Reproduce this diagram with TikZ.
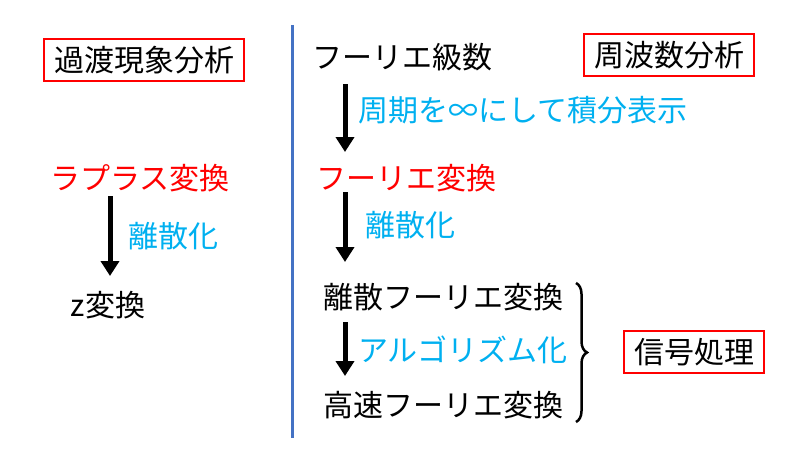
\documentclass[tikz,border=0pt]{standalone}
\usepackage{fontspec}
\setmainfont{Noto Sans CJK JP}
\usetikzlibrary{arrows.meta,decorations.pathreplacing}
\definecolor{cy}{HTML}{00B0F0}
\definecolor{bl}{HTML}{4472C4}
\begin{document}
\begin{tikzpicture}[x=1pt,y=-1pt,
  txt/.style={inner sep=0pt,font=\fontsize{30}{33}\selectfont},
  lab/.style={txt,anchor=west,text=cy},
  rbox/.style={txt,draw=red,line width=2.5pt,inner xsep=10pt,inner ysep=7pt},
  arr/.style={line width=5pt,-{Triangle[width=18pt,length=15pt]}}]
\useasboundingbox (0,0) rectangle (800,460);
\draw[bl,line width=3pt] (292,25) coordinate (t) -- (292,438) coordinate (b);
\node[rbox] (kato) at (144,60) {過渡現象分析};
\node[rbox] (shuha) at (669,55) {周波数分析};
\node[rbox] (shingo) at (694,352) {信号処理};
\node[txt] (fs) at (402,57) {フーリエ級数};
\node[txt,text=red] (ft) at (406,178) {フーリエ変換};
\node[txt,text=red] (lp) at (140,178) {ラプラス変換};
\node[txt] (z) at (108,305) {z変換};
\node[txt] (dft) at (443,297) {離散フーリエ変換};
\node[txt] (fft) at (443,405) {高速フーリエ変換};
\coordinate (a1) at (345,84); \coordinate (a2) at (345,152);
\coordinate (b1) at (345,192); \coordinate (b2) at (345,262);
\coordinate (c1) at (110,196); \coordinate (c2) at (110,276);
\coordinate (d1) at (345,322); \coordinate (d2) at (345,376);
\draw[arr] (a1) -- (a2);
\draw[arr] (b1) -- (b2);
\draw[arr] (c1) -- (c2);
\draw[arr] (d1) -- (d2);
\node[lab] (l1) at (358,110) {周期を∞にして積分表示};
\node[lab] (l2) at (365,225) {離散化};
\node[lab] (l3) at (128,236) {離散化};
\node[lab] (l4) at (358,350) {アルゴリズム化};
\coordinate (br1) at (576,283); \coordinate (br2) at (576,422);
\draw[line width=2.5pt,decorate,decoration={brace,amplitude=11pt}] (br1) -- (br2);
\end{tikzpicture}
\end{document}
